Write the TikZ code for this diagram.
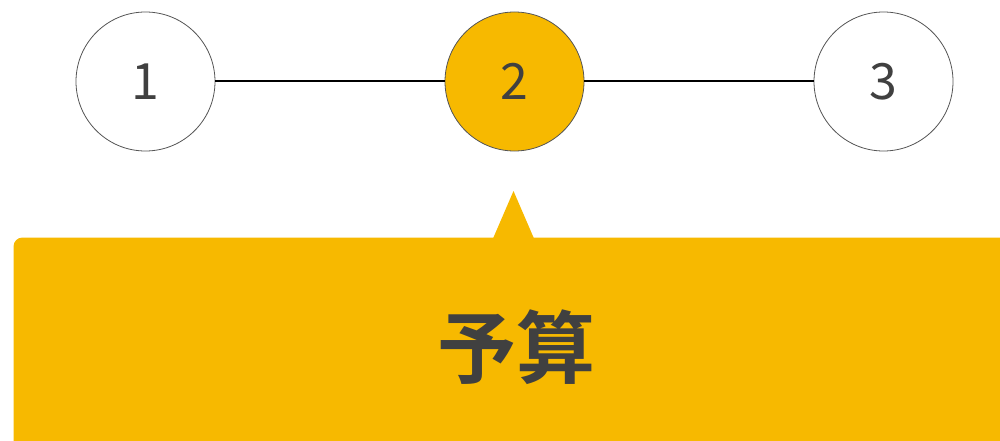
\documentclass[tikz,border=0pt]{standalone}
\usepackage{fontspec}
\newfontfamily\cjk{Noto Sans CJK JP}
\newfontfamily\cjkb{Noto Sans CJK JP Bold}
\definecolor{gold}{HTML}{F7B900}
\definecolor{txt}{HTML}{404040}
\definecolor{ring}{HTML}{555555}
\tikzset{
  stepcircle/.style={circle, draw=ring, line width=0.8pt, minimum size=139pt, inner sep=0pt,
    font=\cjk\fontsize{50}{50}\selectfont, text=txt},
  joinline/.style={draw=black, line width=2pt},
}
\begin{document}
\begin{tikzpicture}[x=1pt,y=-1pt]
\useasboundingbox (0,0) rectangle (1000,441);
\clip (0,0) rectangle (1000,441);
\node[stepcircle, fill=white] (c1) at (145.5,81.5) {1};
\node[stepcircle, fill=gold] (c2) at (514.5,81.5) {2};
\node[stepcircle, fill=white] (c3) at (883.5,81.5) {3};
\draw[joinline] (c1) -- (c2);
\draw[joinline] (c2) -- (c3);
\fill[gold, rounded corners=9pt] (13.5,237.5) rectangle (1020,470);
\fill[gold] (493,238.5) -- (513.5,191) -- (534,238.5) -- cycle;
\node[text=txt, font=\cjkb\fontsize{79}{79}\selectfont, inner sep=0pt] (lbl) at (516,347) {予算};
\end{tikzpicture}
\end{document}
